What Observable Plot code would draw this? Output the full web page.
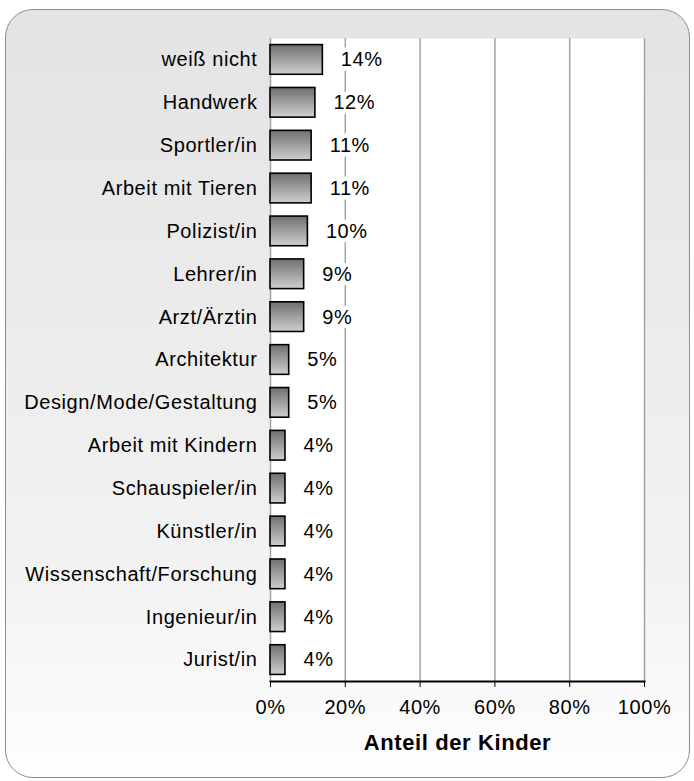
<!DOCTYPE html>
<html><head><meta charset="utf-8">
<script src="https://cdn.jsdelivr.net/npm/d3@7"></script>
<script src="https://cdn.jsdelivr.net/npm/@observablehq/plot@0.6"></script>
<style>
html,body{margin:0;padding:0;background:#fff;}
#wrap{position:relative;width:694px;height:781px;overflow:hidden;}
#bg{position:absolute;left:5px;top:9px;width:683px;height:767px;border:1.5px solid #8c8c8c;border-radius:28px;
background:linear-gradient(to bottom,#e3e3e3 0%,#f3f3f3 75%,#fefefe 100%);}
#chart{position:absolute;left:0;top:0;}
#chart svg{background:transparent !important;}
</style></head>
<body><div id="wrap"><div id="bg"></div><div id="chart"></div></div>
<script>
const categories = ["weiß nicht","Handwerk","Sportler/in","Arbeit mit Tieren","Polizist/in","Lehrer/in","Arzt/Ärztin","Architektur","Design/Mode/Gestaltung","Arbeit mit Kindern","Schauspieler/in","Künstler/in","Wissenschaft/Forschung","Ingenieur/in","Jurist/in"];
const values = [14,12,11,11,10,9,9,5,5,4,4,4,4,4,4];
const xTicks = [0,20,40,60,80,100];
const axisTitle = "Anteil der Kinder";

const data = categories.map((c,i)=>({cat:c, val:values[i]}));
const font = "'Liberation Sans', Arial, sans-serif";

const chart = Plot.plot({
  width: 694, height: 781,
  marginLeft: 270, marginRight: 50, marginTop: 38, marginBottom: 100,
  style: {fontFamily: font, fontSize: "20px", background: "transparent", color: "#000", letterSpacing: "0.6px"},
  x: {domain: [0,100]},
  y: {domain: categories, padding: 0, round: false},
  marks: [
    Plot.frame({fill: "white", stroke: null}),
    Plot.gridX({ticks: xTicks, stroke: "#a3a3a3", strokeOpacity: 1, strokeWidth: 1.5}),
    Plot.barX(data, {y: "cat", x: "val", insetTop: 6.6, insetBottom: 6.6, fill: "url(#barGrad)", stroke: "#000", strokeWidth: 1.6}),
    Plot.text(data, {y: "cat", x: "val", text: d => d.val + "%", textAnchor: "start", dx: 18, fontSize: 20, fill: "#000", stroke: "white", strokeWidth: 9}),
    Plot.frame({anchor: "bottom", stroke: "#000", strokeWidth: 2}),
    Plot.axisX({ticks: xTicks, tickFormat: d => d + "%", tickSize: 6, tickPadding: 12, label: null, fontSize: 20, stroke: "#000"}),
    Plot.axisY({tickSize: 0, tickPadding: 13, label: null, fontSize: 20}),
    Plot.text([axisTitle], {frameAnchor: "bottom", dy: 61, lineAnchor: "middle", fontWeight: "bold", fontSize: 22, fill: "#000"})
  ]
});

const svg = d3.select(chart);
const defs = svg.insert("defs", ":first-child");
const g = defs.append("linearGradient").attr("id","barGrad").attr("x1",0).attr("y1",0).attr("x2",0).attr("y2",1);
g.append("stop").attr("offset","0%").attr("stop-color","#6f6f6f");
g.append("stop").attr("offset","100%").attr("stop-color","#cfcfcf");
document.getElementById("chart").appendChild(chart);
</script></body></html>
